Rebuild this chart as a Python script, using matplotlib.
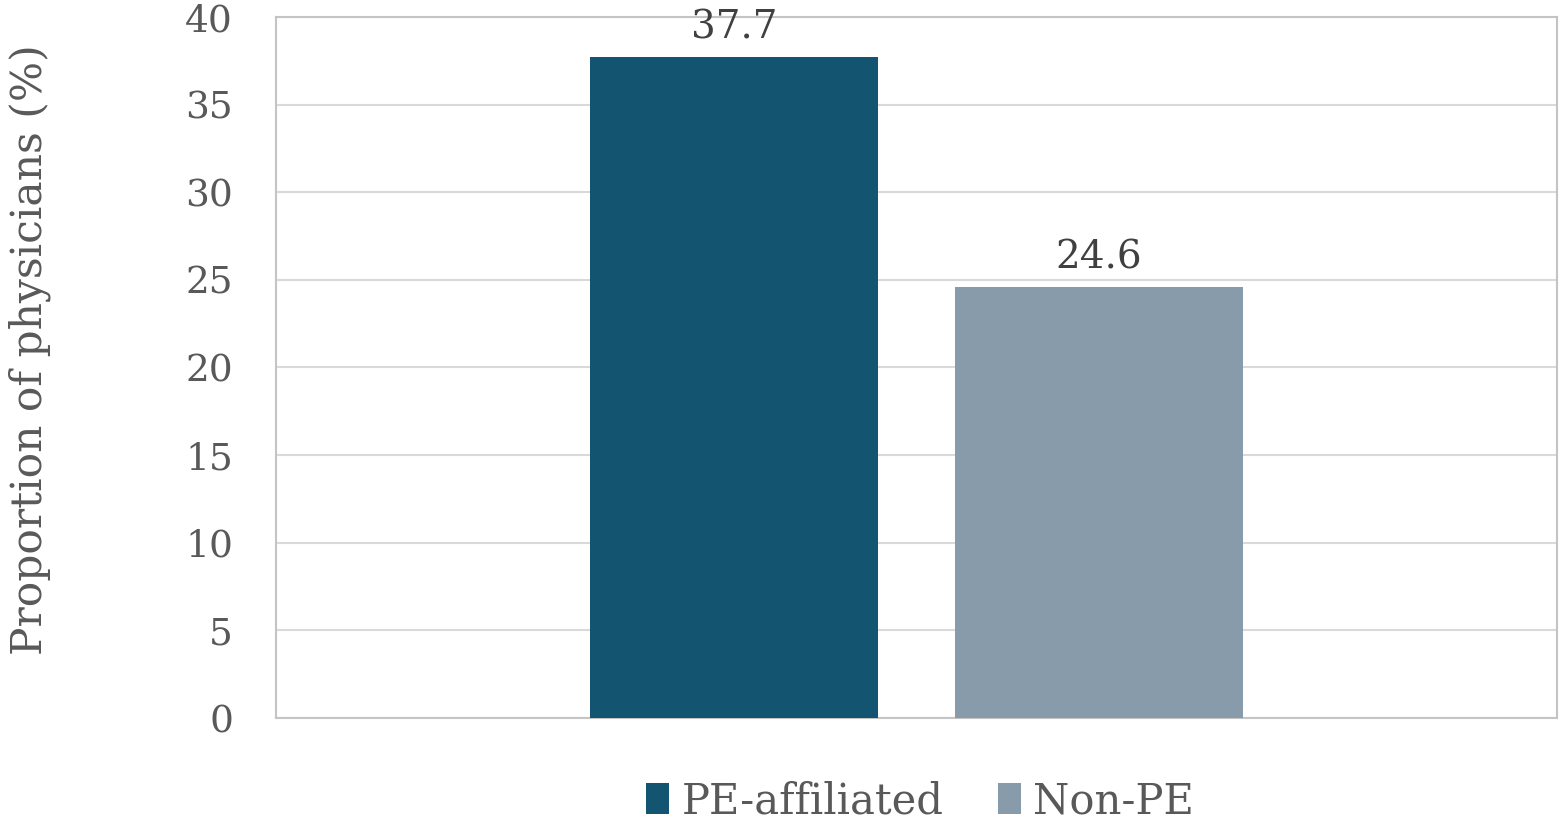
import matplotlib.pyplot as plt
import numpy as np

groups = ['PE-affiliated', 'Non-PE']
values = [37.7, 24.6]
colors = ['#135571', '#889bab']
yticks = [0, 5, 10, 15, 20, 25, 30, 35, 40]

plt.rcParams['font.family'] = ['DejaVu Serif']

fig = plt.figure(figsize=(15.6, 8.22), dpi=100)
ax = fig.add_axes([276 / 1560, 1 - 718 / 822, 1281 / 1560, 701 / 822])

width = 0.45
offsets = [-0.285, 0.285]
for name, val, col, off in zip(groups, values, colors, offsets):
    ax.bar(off, val, width=width, color=col, label=name, zorder=3)
    ax.text(off, val + 0.6, f'{val:.1f}', ha='center', va='bottom',
            fontsize=28, color='#404040', zorder=4)

ax.set_xlim(-1, 1)
ax.set_ylim(0, 40)
ax.set_yticks(yticks)
ax.set_xticks([])
ax.tick_params(axis='y', length=0, pad=31, labelsize=27, labelcolor='#595959')
ax.yaxis.grid(True, color='#d9d9d9', linewidth=1.5, zorder=0)
for sp in ax.spines.values():
    sp.set_color('#c4c4c4')
    sp.set_linewidth(1.5)

ax.set_ylabel('Proportion of physicians (%)', fontsize=30.5, color='#595959')
ax.yaxis.set_label_coords(-0.176, 0.525)

ax.legend(loc='upper center', bbox_to_anchor=(0.503, -0.035), ncol=2, frameon=False,
          fontsize=30, handlelength=0.55, handleheight=0.8, handletextpad=0.3,
          columnspacing=1.3, labelcolor='#595959')

fig.savefig('out.png', dpi=100)
